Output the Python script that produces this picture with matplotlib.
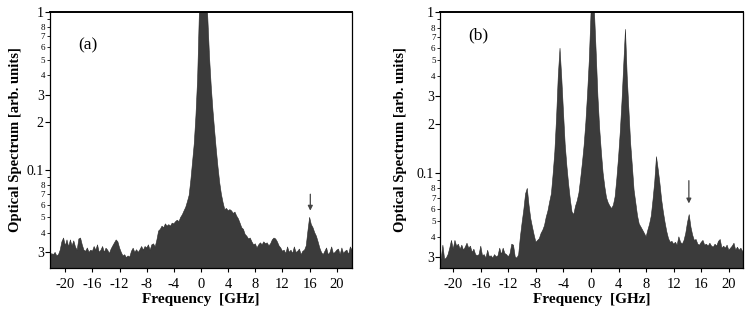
import numpy as np
import matplotlib
matplotlib.use("Agg")
import matplotlib.pyplot as plt
from matplotlib.ticker import FixedLocator, FixedFormatter

plt.rcParams['font.family'] = ['Liberation Serif', 'DejaVu Serif']
plt.rcParams['axes.unicode_minus'] = False

# Frequency sampling grid (GHz), 0.25 GHz steps from -22.5 to 22.25
freq_start = -22.5
freq_step = 0.25

# Panel (a): optical spectrum, single-mode
spectrum_a = [
    0.029, 0.028, 0.0295, 0.029, 0.030, 0.0285, 0.029, 0.031,
    0.035, 0.037, 0.033, 0.036, 0.0325, 0.036, 0.033, 0.0355,
    0.0325, 0.031, 0.0365, 0.037, 0.0335, 0.031, 0.0305, 0.032,
    0.030, 0.031, 0.0305, 0.0327, 0.031, 0.0335, 0.030, 0.031,
    0.0327, 0.030, 0.0319, 0.031, 0.0295, 0.0315, 0.033, 0.0345,
    0.036, 0.035, 0.032, 0.030, 0.0285, 0.029, 0.0278, 0.0285,
    0.028, 0.0305, 0.0319, 0.030, 0.0312, 0.030, 0.0312, 0.0327,
    0.031, 0.0327, 0.032, 0.0335, 0.031, 0.0335, 0.034, 0.0325,
    0.036, 0.041, 0.042, 0.044, 0.043, 0.0455, 0.044, 0.045,
    0.044, 0.046, 0.0455, 0.047, 0.048, 0.047, 0.050, 0.052,
    0.055, 0.058, 0.063, 0.069, 0.086, 0.112, 0.146, 0.22,
    0.38, 0.97, 1.5, 1.5, 1.5, 1.5, 0.91, 0.52,
    0.34, 0.24, 0.178, 0.134, 0.104, 0.083, 0.070, 0.062,
    0.056, 0.057, 0.055, 0.056, 0.055, 0.053, 0.054, 0.051,
    0.049, 0.046, 0.043, 0.042, 0.039, 0.038, 0.0365, 0.037,
    0.035, 0.0335, 0.034, 0.032, 0.0335, 0.0345, 0.0335, 0.035,
    0.034, 0.0345, 0.033, 0.034, 0.036, 0.037, 0.0365, 0.035,
    0.033, 0.032, 0.0305, 0.031, 0.0295, 0.0325, 0.030, 0.031,
    0.0295, 0.0325, 0.030, 0.0305, 0.0315, 0.029, 0.0305, 0.031,
    0.033, 0.041, 0.050, 0.045, 0.043, 0.040, 0.038, 0.035,
    0.032, 0.030, 0.029, 0.0305, 0.032, 0.029, 0.030, 0.0325,
    0.0295, 0.030, 0.031, 0.0315, 0.029, 0.032, 0.0295, 0.0305,
    0.031, 0.029, 0.0325, 0.031,
]

# Panel (b): optical spectrum with side modes
spectrum_b = [
    0.030, 0.029, 0.030, 0.029, 0.0355, 0.029, 0.0295, 0.031,
    0.034, 0.038, 0.0335, 0.038, 0.035, 0.036, 0.0335, 0.0355,
    0.033, 0.0345, 0.0365, 0.034, 0.035, 0.032, 0.0335, 0.031,
    0.0305, 0.031, 0.035, 0.0305, 0.031, 0.0295, 0.033, 0.030,
    0.0305, 0.0295, 0.031, 0.030, 0.0305, 0.034, 0.031, 0.034,
    0.0315, 0.031, 0.030, 0.0315, 0.036, 0.0355, 0.030, 0.0295,
    0.031, 0.040, 0.049, 0.059, 0.074, 0.080, 0.063, 0.052,
    0.046, 0.041, 0.037, 0.038, 0.039, 0.042, 0.044, 0.047,
    0.053, 0.058, 0.066, 0.074, 0.098, 0.135, 0.22, 0.40,
    0.595, 0.39, 0.24, 0.15, 0.11, 0.085, 0.068, 0.057,
    0.055, 0.062, 0.067, 0.075, 0.092, 0.115, 0.148, 0.205,
    0.31, 0.50, 0.98, 1.5, 1.0, 0.56, 0.30, 0.19,
    0.135, 0.10, 0.082, 0.070, 0.065, 0.062, 0.060, 0.063,
    0.071, 0.092, 0.125, 0.18, 0.28, 0.47, 0.78, 0.40,
    0.246, 0.153, 0.11, 0.078, 0.065, 0.054, 0.048, 0.046,
    0.044, 0.042, 0.040, 0.044, 0.048, 0.054, 0.068, 0.088,
    0.126, 0.105, 0.086, 0.068, 0.057, 0.049, 0.043, 0.039,
    0.037, 0.0375, 0.036, 0.037, 0.0355, 0.040, 0.037, 0.036,
    0.038, 0.042, 0.049, 0.055, 0.046, 0.041, 0.038, 0.0385,
    0.036, 0.0355, 0.037, 0.038, 0.0355, 0.036, 0.035, 0.0365,
    0.035, 0.0345, 0.036, 0.035, 0.0375, 0.0385, 0.034, 0.035,
    0.034, 0.0355, 0.033, 0.034, 0.035, 0.0365, 0.033, 0.0345,
    0.033, 0.034, 0.0325, 0.032,
]

panel_labels = ["(a)", "(b)"]
x_ticks = [-20, -16, -12, -8, -4, 0, 4, 8, 12, 16, 20]
major_y = [0.03, 0.1, 0.2, 0.3, 1.0]
major_y_labels = ["3", "0.1", "2", "3", "1"]
minor_y = [0.04, 0.05, 0.06, 0.07, 0.08, 0.09, 0.4, 0.5, 0.6, 0.7, 0.8, 0.9]
minor_y_labels = ["4", "5", "6", "7", "8", "", "4", "5", "6", "7", "8", ""]
arrow_freq = [16.1, 14.2]
arrow_from = [0.073, 0.093]
arrow_to = [0.053, 0.062]
xlims = [(-22.25, 22.25), (-21.85, 22.05)]
ylims = [(0.0239, 1.0), (0.0256, 1.0)]

freq = freq_start + freq_step * np.arange(len(spectrum_a))

fig = plt.figure(figsize=(7.5, 3.2), dpi=100)
axes = [fig.add_axes([0.0667, 0.1625, 0.4027, 0.8]),
        fig.add_axes([0.5873, 0.1625, 0.4033, 0.8])]
label_pos = [(0.093, 0.9), (0.091, 0.94)]
ylabel_pads = [3, 7]

fill_color = "#3b3b3b"
for i, (ax, spec) in enumerate(zip(axes, [spectrum_a, spectrum_b])):
    ax.set_yscale("log")
    ax.fill_between(freq, spec, 1e-3, color=fill_color, linewidth=0.4,
                    edgecolor="#2a2a2a")
    ax.set_xlim(*xlims[i])
    ax.set_ylim(*ylims[i])
    ax.xaxis.set_major_locator(FixedLocator(x_ticks))
    ax.set_xticklabels([str(t) for t in x_ticks])
    ax.yaxis.set_major_locator(FixedLocator(major_y))
    ax.yaxis.set_major_formatter(FixedFormatter(major_y_labels))
    ax.yaxis.set_minor_locator(FixedLocator(minor_y))
    ax.yaxis.set_minor_formatter(FixedFormatter(minor_y_labels))
    ax.tick_params(axis="x", which="major", direction="out", length=3,
                   width=0.8, labelsize=10.5, pad=4)
    ax.tick_params(axis="y", which="major", direction="out", length=3.5,
                   width=0.8, labelsize=10, pad=1)
    ax.tick_params(axis="y", which="minor", direction="out", length=2.5,
                   width=0.6, labelsize=6.5, pad=1)
    ax.tick_params(axis="x", which="minor", bottom=False)
    for s in ax.spines.values():
        s.set_linewidth(0.9)
    ax.spines["top"].set_linewidth(1.4)
    ax.set_xlabel("Frequency  [GHz]", fontsize=11, fontweight="bold",
                  labelpad=2)
    ax.set_ylabel("Optical Spectrum [arb. units]", fontsize=10.5,
                  fontweight="bold", labelpad=ylabel_pads[i])
    ax.text(label_pos[i][0], label_pos[i][1], panel_labels[i],
            transform=ax.transAxes, fontsize=12.5, va="top", ha="left")
    ax.annotate("", xy=(arrow_freq[i], arrow_to[i]),
                xytext=(arrow_freq[i], arrow_from[i]),
                arrowprops=dict(arrowstyle="-|>", color="#444444", lw=0.9,
                                mutation_scale=7))

fig.savefig("out.png", dpi=100)
